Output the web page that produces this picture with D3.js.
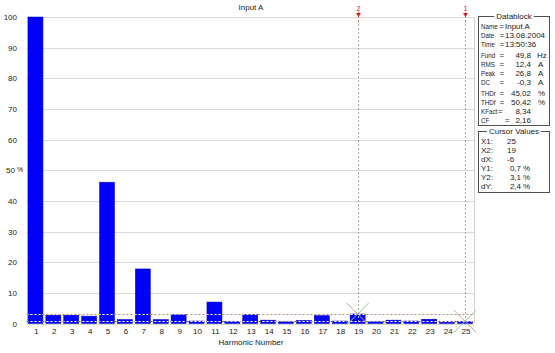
<!DOCTYPE html>
<html><head><meta charset="utf-8">
<script src="https://cdn.jsdelivr.net/npm/d3@7"></script>
<style>
html,body{margin:0;padding:0;background:#fff;}
svg{display:block;font-family:"Liberation Sans",Arial,sans-serif;}
</style></head>
<body>
<svg id="c" width="555" height="353"></svg>
<script>
// ---- data ----
const harmonics = d3.range(1, 26);
const values = [100, 2.7, 2.7, 2.4, 46.1, 1.3, 17.8, 1.3, 2.9, 0.8, 7.0, 0.7, 3.0, 1.1, 0.5, 1.0, 2.6, 0.8, 3.1, 0.5, 1.1, 0.8, 1.4, 0.4, 0.7];
const yTicks = [0, 10, 20, 30, 40, 50, 60, 70, 80, 90, 100];
const yTickLabels = ["0", "10", "20", "30", "40", "50 %", "60", "70", "80", "90", "100"];
const title = "Input A";
const xTitle = "Harmonic Number";
const cursors = [{id: "1", x: 25, y: 0.7}, {id: "2", x: 19, y: 3.1}];
const dataLabels = ["Name", "Date", "Time", "Fund", "RMS", "Peak", "DC", "THDr", "THDf", "KFact", "CF"];
const dataValues = ["Input A", "13.08.2004", "13:50:36", "49,8", "12,4", "26,8", "-0,3", "45,02", "50,42", "8,34", "2,16"];
const dataUnits = ["", "", "", "Hz", "A", "A", "A", "%", "%", "", ""];
const cursorLabels = ["X1:", "X2:", "dX:", "Y1:", "Y2:", "dY:"];
const cursorValues = ["25", "19", "-6", "0,7", "3,1", "2,4"];
const cursorUnits = ["", "", "", "%", "%", "%"];

const svg = d3.select("#c");
const L = 26.5, R = 474, T = 17, B = 323.5;
const x = d3.scaleBand().domain(harmonics).range([L, R]).paddingInner(0.16).paddingOuter(0.08);
const y = d3.scaleLinear().domain([0, 100]).range([B, T]);

// gridlines
svg.append("g").selectAll("line").data(yTicks).join("line")
  .attr("x1", L).attr("x2", R).attr("y1", d => Math.round(y(d)) + 0.5).attr("y2", d => Math.round(y(d)) + 0.5)
  .attr("stroke", "#d9d9d9").attr("stroke-width", 1);
svg.append("line").attr("x1", R + 0.5).attr("x2", R + 0.5).attr("y1", y(100)).attr("y2", y(0))
  .attr("stroke", "#d0d0d0");

// y labels
const yl = svg.append("g").attr("font-size", 8).attr("fill", "#222");
yl.selectAll("text").data(yTicks).join("text")
  .attr("x", (d, i) => yTickLabels[i].includes("%") ? 15 : 17)
  .attr("y", d => y(d) + 3)
  .attr("text-anchor", "end")
  .text((d, i) => yTickLabels[i].replace(" %", ""));
yl.selectAll("text.pct").data(yTicks.filter((d, i) => yTickLabels[i].includes("%"))).join("text")
  .attr("class", "pct").attr("x", 17).attr("y", d => y(d) + 2).attr("font-size", 7).text("%");

// bars
const bars = svg.append("g");
bars.selectAll("rect").data(harmonics).join("rect")
  .attr("x", d => x(d)).attr("width", x.bandwidth())
  .attr("y", (d, i) => y(values[i])).attr("height", (d, i) => y(0) - y(values[i]))
  .attr("fill", "#0000ff").attr("stroke", "#0000c0").attr("stroke-width", 0.5);

// clip for xor-like cursor lines over bars
const defs = svg.append("defs");
defs.append("clipPath").attr("id", "barclip").selectAll("rect").data(harmonics).join("rect")
  .attr("x", d => x(d)).attr("width", x.bandwidth())
  .attr("y", (d, i) => y(values[i])).attr("height", (d, i) => y(0) - y(values[i]));

// horizontal cursor lines
const hcol = {"1": "#6a4a9a", "2": "#b08a7a"};
cursors.forEach(c => {
  const yy = Math.round(y(c.y)) + 0.5;
  svg.append("line").attr("x1", L).attr("x2", R).attr("y1", yy).attr("y2", yy)
    .attr("stroke", hcol[c.id]).attr("stroke-dasharray", "2,2");
  svg.append("line").attr("x1", L).attr("x2", R).attr("y1", yy).attr("y2", yy)
    .attr("stroke", "#ffffff").attr("stroke-dasharray", "2,2").attr("clip-path", "url(#barclip)");
});

// vertical cursor lines
cursors.forEach(c => {
  const xx = Math.round(x(c.x) + x.bandwidth() / 2) + 0.5;
  svg.append("line").attr("x1", xx).attr("x2", xx).attr("y1", 12).attr("y2", y(0))
    .attr("stroke", "#a8a8a8").attr("stroke-dasharray", "2,2");
  svg.append("line").attr("x1", xx).attr("x2", xx).attr("y1", 12).attr("y2", 22)
    .attr("stroke", "#d08080").attr("stroke-dasharray", "2,2");
  svg.append("path").attr("d", `M${xx - 2.5},13L${xx + 2.5},13L${xx},17Z`).attr("fill", "#cc2020");
  svg.append("text").attr("x", xx).attr("y", 11).attr("text-anchor", "middle")
    .attr("font-size", 7).attr("fill", "#cc2020").text(c.id);
  const cx = x(c.x) + x.bandwidth() / 2, cy = y(c.y), h = 11;
  svg.append("line").attr("x1", cx - h).attr("y1", cy - h).attr("x2", cx + h).attr("y2", cy + h)
    .attr("stroke", "#b4a48c").attr("stroke-width", 1);
  svg.append("line").attr("x1", cx + h).attr("y1", cy - h).attr("x2", cx - h).attr("y2", cy + h)
    .attr("stroke", "#90c890").attr("stroke-width", 1);
});

// x axis labels
svg.append("g").attr("font-size", 8).attr("fill", "#222").selectAll("text").data(harmonics).join("text")
  .attr("x", d => x(d) + x.bandwidth() / 2 + 1).attr("y", 334).attr("text-anchor", "middle").text(d => d);
svg.append("text").attr("x", 251).attr("y", 345).attr("text-anchor", "middle").attr("font-size", 8)
  .attr("fill", "#222").text(xTitle);
svg.append("text").attr("x", 251).attr("y", 10).attr("text-anchor", "middle").attr("font-size", 8)
  .attr("fill", "#222").text(title);

// group boxes
function groupBox(top, bottom, label) {
  const g = svg.append("g");
  g.append("rect").attr("x", 478.5).attr("y", top + 0.5).attr("width", 71).attr("height", bottom - top)
    .attr("fill", "none").attr("stroke", "#505050");
  const t = g.append("text").attr("x", 514).attr("y", top + 3).attr("text-anchor", "middle")
    .attr("font-size", 8).attr("fill", "#222").text(label);
  const w = t.node().getComputedTextLength();
  g.insert("rect", "text").attr("x", 514 - w / 2 - 2).attr("y", top - 2).attr("width", w + 4).attr("height", 5).attr("fill", "#fff");
  return g;
}
groupBox(16, 125, "Datablock");
groupBox(131, 192, "Cursor Values");

// narrow label helper (horizontally compressed text)
function narrow(parent, xPos, yPos, str, k) {
  parent.append("text").attr("transform", `translate(${xPos},${yPos}) scale(${k},1)`).text(str);
}

const dy = [26, 35, 44, 55, 64, 73, 82, 93, 102, 111, 120];
const db = svg.append("g").attr("font-size", 8).attr("fill", "#222");
dataLabels.forEach((l, i) => {
  narrow(db, 481, dy[i] + 3, l, 0.78);
  const eqx = (l === "CF") ? 505 : (l === "KFact" ? 498 : 499.5);
  db.append("text").attr("x", eqx).attr("y", dy[i] + 3).text("=");
  if (i < 3) {
    db.append("text").attr("x", 505).attr("y", dy[i] + 3).text(dataValues[i]);
  } else {
    db.append("text").attr("x", 531).attr("y", dy[i] + 3).attr("text-anchor", "end").text(dataValues[i]);
    db.append("text").attr("x", dataUnits[i] === "Hz" ? 537 : 538).attr("y", dy[i] + 3).text(dataUnits[i]);
  }
});
const cyy = [141, 150, 159, 168, 177, 186];
cursorLabels.forEach((l, i) => {
  db.append("text").attr("x", 481).attr("y", cyy[i] + 3).text(l);
  if (i < 3) db.append("text").attr("x", 507).attr("y", cyy[i] + 3).text(cursorValues[i]);
  else {
    db.append("text").attr("x", 521).attr("y", cyy[i] + 3).attr("text-anchor", "end").text(cursorValues[i]);
    db.append("text").attr("x", 523).attr("y", cyy[i] + 3).text(cursorUnits[i]);
  }
});
</script>
</body></html>
